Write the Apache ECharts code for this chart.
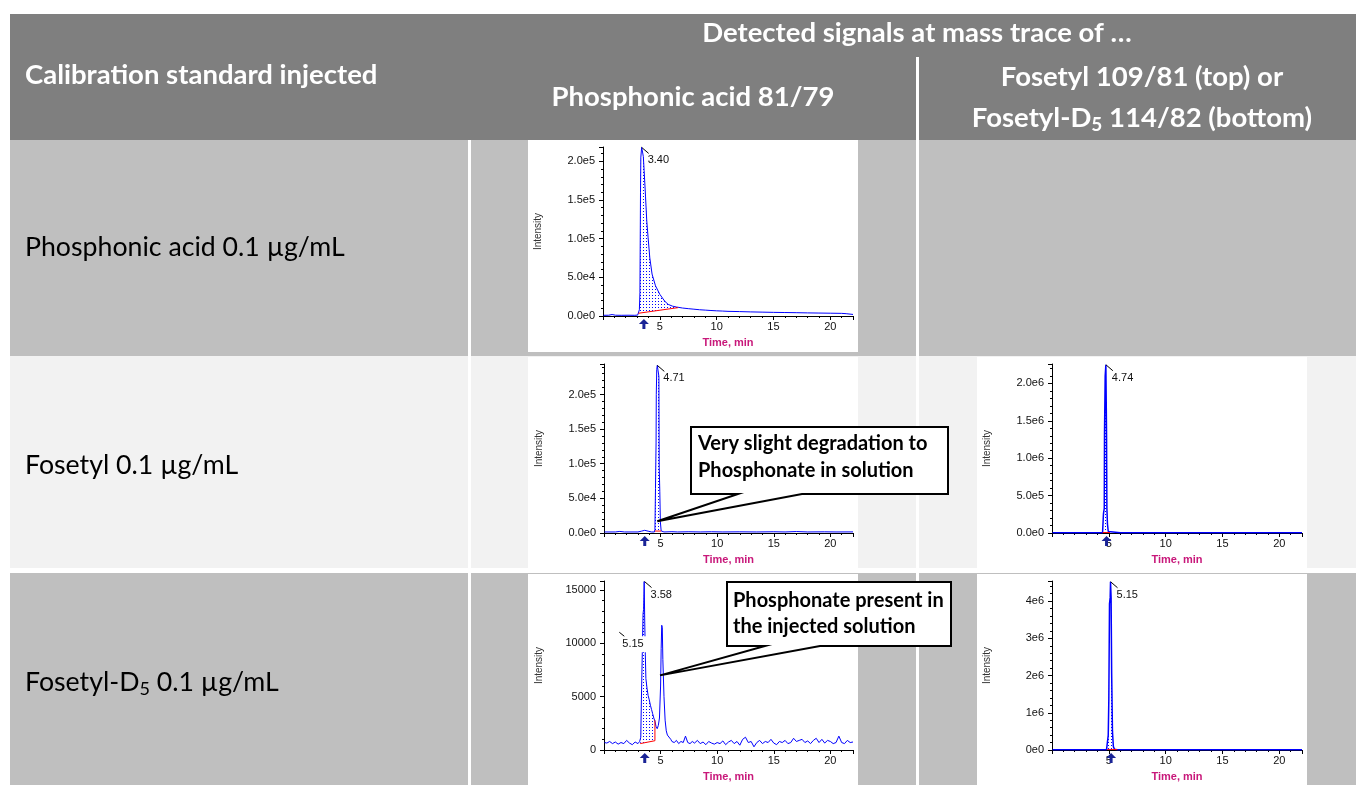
<!DOCTYPE html>
<html><head><meta charset="utf-8">
<script src="https://cdn.jsdelivr.net/npm/echarts/dist/echarts.min.js"></script>
<style>html,body{margin:0;padding:0;background:#fff}#c{width:1356px;height:785px}</style>
</head><body><div id="c"></div>
<script>
// ================= DATA =================
const headerLeft = 'Calibration standard injected';
const headerTop = 'Detected signals at mass trace of …';
const colPhos = 'Phosphonic acid 81/79';
const colFosTop = 'Fosetyl 109/81 (top) or';
const colFosBottom = 'Fosetyl-D{s|5} 114/82 (bottom)';
const rowLabels = ['Phosphonic acid 0.1 µg/mL', 'Fosetyl 0.1 µg/mL', 'Fosetyl-D{s|5} 0.1 µg/mL'];
const xAxisName = 'Time, min';
const yAxisName = 'Intensity';

// Row 1 – phosphonic acid standard, trace 81/79
const trace1 = [[0.05,900],[0.5,1000],[0.8,1900],[1.1,1000],[1.6,900],[2.2,1000],[2.8,900],[3.05,1200],[3.12,3500],[3.2,8000],[3.25,30000],[3.3,160000],[3.33,205000],[3.4,218000],[3.48,212000],[3.55,206000],[3.62,188000],[3.74,155000],[3.85,123000],[3.97,101000],[4.12,75000],[4.32,54000],[4.62,39000],[5.0,28000],[5.44,19000],[5.74,15000],[6.1,12800],[6.47,11600],[7.0,10300],[7.5,9500],[8.0,8800],[8.5,8100],[9.0,7600],[9.5,7100],[10,6700],[10.5,6400],[11,6000],[12,5700],[13,5300],[14,5000],[15,4700],[16,4500],[17,4300],[18,4000],[19,3800],[20,3600],[21,3400],[21.4,3000],[22,2000]];
const base1 = [[3.1,3500],[6.6,10800]];
const peaks1 = [[3.40,218000]];
const peakLabels1 = ['3.40'];
const arrows1 = [3.6];

// Row 2 – fosetyl standard, trace 81/79
const trace2 = [[0.05,1500],[1.0,1500],[1.4,2300],[1.8,1500],[3.0,1500],[3.3,2600],[3.6,3900],[3.9,2600],[4.2,1500],[4.45,1500],[4.5,5000],[4.55,64000],[4.6,130000],[4.62,200000],[4.66,236000],[4.71,242000],[4.78,234000],[4.85,226000],[4.88,95000],[4.93,60000],[4.98,16000],[5.05,3000],[5.3,1500],[6.0,1900],[6.5,1500],[7.5,1800],[8.5,1500],[9.5,1800],[10.5,1500],[12,1700],[13.5,1500],[15,1800],[16,1500],[17,2100],[18,1500],[19.5,1700],[20.5,1500],[22,1600]];
const base2 = [[4.5,2800],[5.05,2800]];
const peaks2 = [[4.71,242000]];
const peakLabels2 = ['4.71'];
const arrows2 = [3.6];
const callout2Tip = [4.71, 17000];
const callout2Text = ['Very slight degradation to', 'Phosphonate in solution'];

// Row 3 – fosetyl-D5 standard, trace 81/79
const trace3 = [[0.05,700],[0.25,650],[0.5,800],[0.75,600],[1.0,750],[1.25,550],[1.5,700],[1.75,600],[2.0,900],[2.25,650],[2.5,500],[2.75,750],[3.0,600],[3.15,800],[3.25,1200],[3.3,4500],[3.38,4400],[3.45,12800],[3.5,13200],[3.55,15800],[3.6,12000],[3.65,9000],[3.7,6700],[3.8,5800],[3.9,5100],[4.0,4700],[4.1,4200],[4.2,3800],[4.3,3400],[4.4,3000],[4.5,2700],[4.6,2200],[4.7,2000],[4.8,2300],[4.9,3000],[5.0,6000],[5.05,9500],[5.1,11700],[5.15,11500],[5.2,8500],[5.3,5000],[5.4,2800],[5.5,1800],[5.6,1400],[5.75,1300],[5.9,1000],[6.0,800],[6.2,700],[6.4,900],[6.6,600],[6.8,800],[7.0,700],[7.2,1300],[7.4,700],[7.6,600],[7.8,800],[8.0,650],[8.25,900],[8.5,600],[8.75,750],[9.0,500],[9.25,800],[9.5,650],[9.75,550],[10.0,700],[10.25,600],[10.5,850],[10.75,500],[11.0,750],[11.25,900],[11.5,600],[11.75,800],[12.0,450],[12.25,1000],[12.5,1200],[12.75,700],[13.0,800],[13.25,300],[13.5,700],[13.75,900],[14.0,600],[14.25,800],[14.5,700],[14.75,1000],[15.0,650],[15.25,500],[15.5,800],[15.75,700],[16.0,900],[16.25,600],[16.5,700],[16.75,1100],[17.0,800],[17.25,900],[17.5,1000],[17.75,700],[18.0,850],[18.25,600],[18.5,900],[18.75,1100],[19.0,700],[19.25,1000],[19.5,650],[19.75,900],[20.0,800],[20.25,600],[20.5,700],[20.75,1300],[21.0,700],[21.25,600],[21.5,900],[21.75,700],[22.0,750]];
const base3 = [[3.2,600],[4.5,870],[4.5,2800]];
const peaks3 = [[3.58,15800],[5.15,11700]];
const peakLabels3 = ['3.58','5.15'];
const arrows3 = [3.6];
const callout3Tip = [4.95, 7000];
const callout3Text = ['Phosphonate present in', 'the injected solution'];

// Row 2 – fosetyl standard, trace 109/81
const trace4 = [[0.05,3000],[2,3000],[4,3000],[4.45,3000],[4.5,20000],[4.53,260000],[4.6,330000],[4.62,1320000],[4.68,2100000],[4.74,2250000],[4.8,1320000],[4.83,330000],[4.88,120000],[4.95,20000],[5.05,5000],[6,3000],[10,3000],[15,3000],[22,3000]];
const base4 = [[4.45,6000],[5.1,6000]];
const peaks4 = [[4.74,2250000]];
const peakLabels4 = ['4.74'];
const arrows4 = [4.8];

// Row 3 – fosetyl-D5 standard, trace 114/82
const trace5 = [[0.05,10000],[4.8,10000],[4.9,50000],[4.95,400000],[5.0,1340000],[5.06,3930000],[5.12,4100000],[5.15,4520000],[5.2,4100000],[5.25,2060000],[5.32,500000],[5.4,90000],[5.5,20000],[5.7,10000],[22,10000]];
const base5 = [[4.85,15000],[5.75,15000]];
const peaks5 = [[5.15,4520000]];
const peakLabels5 = ['5.15'];
const arrows5 = [5.2];

// ================= STYLE / LAYOUT =================
const FONT = 'Lato';
const measure = document.createElement('canvas').getContext('2d');
function fit(text, weight, target) {
  measure.font = weight + ' 100px ' + FONT;
  return Math.round(1000 * target / measure.measureText(text).width) / 10;
}
const regSize = fit('Phosphonic acid 0.1 µg/mL', 'normal', 320);
const boldSize = fit(headerLeft, 'bold', 352);
const callSize = fit(callout2Text[0], 'bold', 230);

const pat = document.createElement('canvas');
pat.width = 3; pat.height = 3;
const pg = pat.getContext('2d');
pg.fillStyle = '#0000ff'; pg.fillRect(1, 1, 1, 1);
const patternFill = { image: pat, repeat: 'repeat' };

function sci(dec) {
  return function (v) {
    if (v === 0) return dec ? '0.0e0' : '0e0';
    const e = Math.floor(Math.log10(v) + 1e-9);
    const m = v / Math.pow(10, e);
    return m.toFixed(dec) + 'e' + e;
  };
}

const charts = [
  { grid: {left:603, top:147, width:250, height:169}, max:218500, interval:50000, fmt:sci(1), trace:trace1, base:base1, peaks:peaks1, labels:peakLabels1, arrows:arrows1 },
  { grid: {left:604, top:364, width:249, height:169}, max:244000, interval:50000, fmt:sci(1), trace:trace2, base:base2, peaks:peaks2, labels:peakLabels2, arrows:arrows2 },
  { grid: {left:604, top:581, width:249, height:169}, max:15850, interval:5000, fmt:function(v){return String(v);}, trace:trace3, base:base3, peaks:peaks3, labels:peakLabels3, arrows:arrows3,
    labelPos: [null, {dx:-40, dy:19, lx1:-43, ly1:7, lx2:-38, ly2:11, bg:true}] },
  { grid: {left:1052, top:364, width:250, height:169}, max:2260000, interval:500000, fmt:sci(1), trace:trace4, base:base4, peaks:peaks4, labels:peakLabels4, arrows:arrows4, lw:1.5 },
  { grid: {left:1052, top:581, width:250, height:169}, max:4540000, interval:1000000, fmt:sci(0), trace:trace5, base:base5, peaks:peaks5, labels:peakLabels5, arrows:arrows5, lw:1.5 }
];

const tickFont = { fontFamily: 'Liberation Sans', fontSize: 11, color: '#111' };
const grids = [], xAxes = [], yAxes = [], series = [];

charts.forEach(function (c, i) {
  grids.push(Object.assign({ containLabel: false, outerBoundsMode: 'none' }, c.grid));
  xAxes.push({
    type: 'value', gridIndex: i, min: 0, max: 22, interval: 5,
    axisLine: { show: true, onZero: false, lineStyle: { color: '#000', width: 1 } },
    axisTick: { show: true, length: 4, lineStyle: { color: '#000' } },
    minorTick: { show: true, splitNumber: 5, length: 2, lineStyle: { color: '#000' } },
    splitLine: { show: false },
    axisLabel: Object.assign({ showMinLabel: false, showMaxLabel: false, margin: 5 }, tickFont),
    name: xAxisName, nameLocation: 'middle', nameGap: 21, nameMoveOverlap: false,
    nameTextStyle: { fontFamily: 'Liberation Sans', fontSize: 11, fontWeight: 'bold', color: '#c8187a' }
  });
  yAxes.push({
    type: 'value', gridIndex: i, min: 0, max: c.max, interval: c.interval,
    axisLine: { show: true, onZero: false, lineStyle: { color: '#000', width: 1 } },
    axisTick: { show: true, length: 4, lineStyle: { color: '#000' } },
    minorTick: { show: true, splitNumber: 5, length: 2, lineStyle: { color: '#000' } },
    splitLine: { show: false },
    axisLabel: Object.assign({ showMaxLabel: false, margin: 8, formatter: c.fmt }, tickFont),
    name: yAxisName, nameLocation: 'middle', nameRotate: 90, nameGap: 60, nameMoveOverlap: false,
    nameTextStyle: { fontFamily: 'Liberation Sans', fontSize: 10, color: '#333' }
  });
  // dotted integration area between trace and baseline
  series.push({
    type: 'custom', xAxisIndex: i, yAxisIndex: i, data: [[c.base[0][0], 0]], z: 2, clip: true, silent: true,
    renderItem: function (params, api) {
      const t0 = c.base[0][0], t1 = c.base[c.base.length - 1][0];
      const pts = [];
      c.trace.forEach(function (p) { if (p[0] >= t0 && p[0] <= t1) pts.push(api.coord(p)); });
      for (let k = c.base.length - 1; k >= 0; k--) pts.push(api.coord(c.base[k]));
      return { type: 'polygon', shape: { points: pts }, style: { fill: patternFill, stroke: null } };
    }
  });
  series.push({ type: 'line', xAxisIndex: i, yAxisIndex: i, data: c.trace, symbol: 'none', z: 3,
    lineStyle: { color: '#0000ff', width: c.lw || 1 }, silent: true });
  series.push({ type: 'line', xAxisIndex: i, yAxisIndex: i, data: c.base, symbol: 'none', z: 4,
    lineStyle: { color: '#ff0000', width: 1 }, silent: true });
  // peak labels and expected-RT arrows
  series.push({
    type: 'custom', xAxisIndex: i, yAxisIndex: i, data: [[0, 0]], z: 6, clip: false, silent: true,
    renderItem: function (params, api) {
      const children = [];
      c.peaks.forEach(function (p, k) {
        const q = api.coord(p);
        const lp = c.labelPos && c.labelPos[k];
        if (lp) {
          children.push({ type: 'rect', shape: { x: q[0] + lp.dx - 3, y: q[1] + lp.dy - 8, width: 30, height: 16 }, style: { fill: '#fff' } });
          children.push({ type: 'line', shape: { x1: q[0] + lp.lx1, y1: q[1] + lp.ly1, x2: q[0] + lp.lx2, y2: q[1] + lp.ly2 }, style: { stroke: '#000', lineWidth: 1 } });
          children.push({ type: 'text', x: q[0] + lp.dx, y: q[1] + lp.dy, style: { text: c.labels[k], font: '11px "Liberation Sans"', fill: '#111', align: 'left', verticalAlign: 'middle' } });
        } else {
          children.push({ type: 'line', shape: { x1: q[0], y1: q[1], x2: q[0] + 7, y2: q[1] + 6 }, style: { stroke: '#000', lineWidth: 1 } });
          children.push({ type: 'text', x: q[0] + 6, y: q[1] + 13, style: { text: c.labels[k], font: '11px "Liberation Sans"', fill: '#111', align: 'left', verticalAlign: 'middle' } });
        }
      });
      c.arrows.forEach(function (ax) {
        const q = api.coord([ax, 0]);
        const x = q[0], y = q[1];
        children.push({ type: 'polygon', shape: { points: [[x, y + 3], [x + 5, y + 8], [x + 1.5, y + 8], [x + 1.5, y + 13], [x - 1.5, y + 13], [x - 1.5, y + 8], [x - 5, y + 8]] }, style: { fill: '#1a2496' } });
      });
      return { type: 'group', children: children };
    }
  });
});

function calloutSeries(gridIdx, tip, lines, box, wedge, textX, textY) {
  return {
    type: 'custom', xAxisIndex: gridIdx, yAxisIndex: gridIdx, data: [tip], z: 20, clip: false, silent: true,
    renderItem: function (params, api) {
      const q = api.coord(tip);
      const pts = [[box.l, box.t], [box.r, box.t], [box.r, box.b], [wedge[1], box.b], [q[0], q[1]], [wedge[0], box.b], [box.l, box.b]];
      const ch = [{ type: 'polygon', shape: { points: pts }, style: { fill: '#fff', stroke: '#000', lineWidth: 2, lineJoin: 'miter' } }];
      lines.forEach(function (s, k) {
        ch.push({ type: 'text', x: textX, y: textY[k], style: { text: s, font: 'bold ' + callSize + 'px ' + FONT, fill: '#000', align: 'left', verticalAlign: 'middle' } });
      });
      return { type: 'group', children: ch };
    }
  };
}
series.push(calloutSeries(1, callout2Tip, callout2Text, { l: 691, r: 948, t: 427, b: 494 }, [738, 802], 698, [444, 471]));
series.push(calloutSeries(2, callout3Tip, callout3Text, { l: 727, r: 951, t: 582, b: 646 }, [765, 820], 733, [601, 627]));

// ================= TABLE (background & text) =================
function rect(x, y, w, h, fill) { return { type: 'rect', z: -10, silent: true, shape: { x: x, y: y, width: w, height: h }, style: { fill: fill } }; }
function txt(s, x, y, size, weight, fill, align) {
  return { type: 'text', z: 1, silent: true, x: x, y: y, style: {
    text: s, fontSize: size, fontWeight: weight, fontFamily: FONT, fill: fill, align: align, verticalAlign: 'middle', lineHeight: Math.round(size * 1.2),
    rich: { s: { fontSize: Math.round(size * 0.68), fontWeight: weight, fontFamily: FONT, fill: fill, verticalAlign: 'bottom', lineHeight: Math.round(size * 0.8) } }
  } };
}
const elements = [
  rect(10, 14, 1346, 126, '#7f7f7f'),
  rect(10, 140, 1346, 216, '#bfbfbf'),
  rect(10, 356, 1346, 212, '#f2f2f2'),
  rect(10, 573, 1346, 212, '#bfbfbf'),
  rect(468, 140, 3, 645, '#ffffff'),
  rect(916, 57, 3, 728, '#ffffff'),
  rect(528, 140, 330, 212, '#ffffff'),
  rect(528, 357, 330, 213, '#ffffff'),
  rect(528, 574, 330, 211, '#ffffff'),
  rect(977, 357, 330, 213, '#ffffff'),
  rect(977, 574, 330, 211, '#ffffff'),
  txt(headerLeft, 25, 75, boldSize, 'bold', '#fff', 'left'),
  txt(headerTop, 917, 33, boldSize, 'bold', '#fff', 'center'),
  txt(colPhos, 693, 97, boldSize, 'bold', '#fff', 'center'),
  txt(colFosTop, 1142, 77, boldSize, 'bold', '#fff', 'center'),
  txt(colFosBottom, 1142, 118, boldSize, 'bold', '#fff', 'center'),
  txt(rowLabels[0], 25, 247, regSize, 'normal', '#000', 'left'),
  txt(rowLabels[1], 25, 465, regSize, 'normal', '#000', 'left'),
  txt(rowLabels[2], 25, 682, regSize, 'normal', '#000', 'left')
];

const chart = echarts.init(document.getElementById('c'), null, { renderer: 'canvas' });
chart.setOption({
  animation: false,
  backgroundColor: '#ffffff',
  graphic: { elements: elements },
  grid: grids, xAxis: xAxes, yAxis: yAxes, series: series
});
</script></body></html>
